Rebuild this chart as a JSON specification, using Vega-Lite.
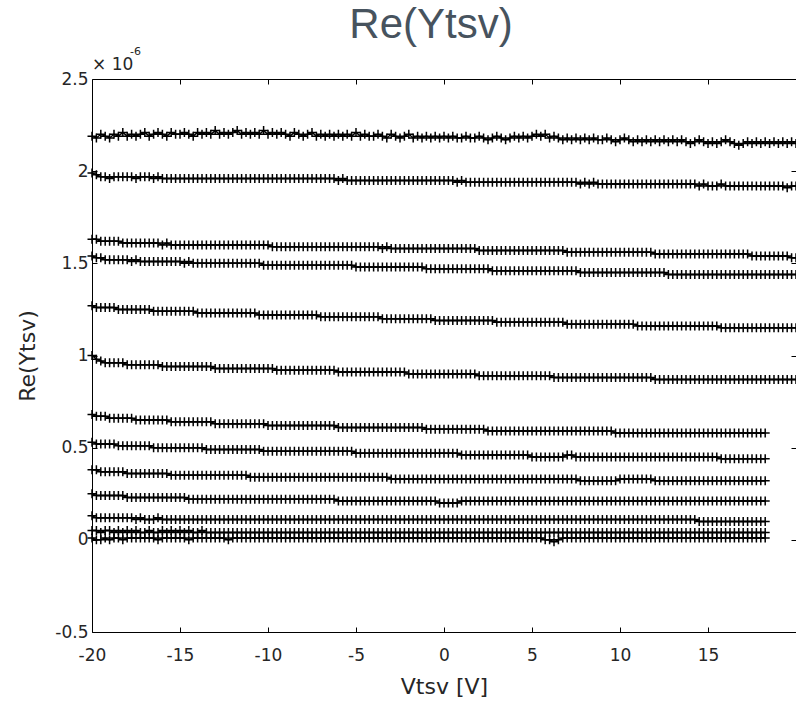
{
"$schema":"https://vega.github.io/schema/vega-lite/v6.json",
"width":704,"height":553,
"autosize":{"type":"none"},
"padding":{"left":92,"top":79,"right":0,"bottom":73},
"background":"white",
"title":{"text":"Re(Ytsv)","font":"Liberation Sans","fontSize":42,"fontWeight":"normal","color":"#47535e","anchor":"middle","dx":-13,"dy":37,"offset":3,"baseline":"alphabetic"},
"config":{"view":{"stroke":"black","strokeWidth":1},
"axis":{"domain":false,"grid":false,"ticks":true,"tickColor":"black","tickSize":-5,"labelFont":"DejaVu Sans","labelFontSize":17,"labelColor":"#262626","labelFlush":false,"labelOverlap":false,"labelBound":false,"titleFont":"DejaVu Sans","titleFontSize":22,"titleFontWeight":"normal","titleColor":"#262626"}},
"datasets":{"v":[
{"x":-20,"a":2.19,"b":1.99,"c":1.63,"d":1.54,"e":1.27,"f":1.00,"g":0.68,"h":0.53,"i":0.38,"j":0.25,"k":0.13,"l":0.05,"m":0.01},
{"x":-19.75,"a":2.18,"b":1.98,"c":1.63,"d":1.53,"e":1.26,"f":0.98,"g":0.67,"h":0.52,"i":0.38,"j":0.24,"k":0.12,"l":0.05,"m":0.00},
{"x":-19.5,"a":2.20,"b":1.97,"c":1.62,"d":1.53,"e":1.26,"f":0.97,"g":0.67,"h":0.52,"i":0.37,"j":0.24,"k":0.12,"l":0.04,"m":0.00},
{"x":-19.25,"a":2.19,"b":1.97,"c":1.62,"d":1.52,"e":1.26,"f":0.96,"g":0.67,"h":0.52,"i":0.37,"j":0.24,"k":0.12,"l":0.05,"m":0.01},
{"x":-19,"a":2.18,"b":1.96,"c":1.62,"d":1.52,"e":1.26,"f":0.96,"g":0.66,"h":0.52,"i":0.37,"j":0.24,"k":0.12,"l":0.05,"m":0.00},
{"x":-18.75,"a":2.20,"b":1.97,"c":1.62,"d":1.52,"e":1.26,"f":0.96,"g":0.66,"h":0.52,"i":0.37,"j":0.24,"k":0.12,"l":0.04,"m":0.01},
{"x":-18.5,"a":2.19,"b":1.97,"c":1.62,"d":1.52,"e":1.25,"f":0.96,"g":0.66,"h":0.51,"i":0.37,"j":0.24,"k":0.12,"l":0.05,"m":0.01},
{"x":-18.25,"a":2.21,"b":1.97,"c":1.61,"d":1.52,"e":1.25,"f":0.96,"g":0.66,"h":0.51,"i":0.37,"j":0.24,"k":0.12,"l":0.04,"m":0.00},
{"x":-18,"a":2.19,"b":1.97,"c":1.61,"d":1.52,"e":1.25,"f":0.95,"g":0.66,"h":0.51,"i":0.36,"j":0.23,"k":0.12,"l":0.05,"m":0.01},
{"x":-17.75,"a":2.20,"b":1.97,"c":1.61,"d":1.51,"e":1.25,"f":0.95,"g":0.66,"h":0.51,"i":0.36,"j":0.23,"k":0.12,"l":0.04,"m":0.01},
{"x":-17.5,"a":2.19,"b":1.96,"c":1.61,"d":1.52,"e":1.25,"f":0.95,"g":0.65,"h":0.51,"i":0.36,"j":0.23,"k":0.11,"l":0.05,"m":0.01},
{"x":-17.25,"a":2.20,"b":1.97,"c":1.61,"d":1.51,"e":1.25,"f":0.95,"g":0.65,"h":0.51,"i":0.36,"j":0.23,"k":0.12,"l":0.04,"m":0.01},
{"x":-17,"a":2.21,"b":1.97,"c":1.61,"d":1.51,"e":1.25,"f":0.95,"g":0.65,"h":0.51,"i":0.36,"j":0.23,"k":0.11,"l":0.04,"m":0.01},
{"x":-16.75,"a":2.19,"b":1.97,"c":1.61,"d":1.51,"e":1.25,"f":0.95,"g":0.65,"h":0.51,"i":0.36,"j":0.23,"k":0.11,"l":0.05,"m":0.01},
{"x":-16.5,"a":2.20,"b":1.96,"c":1.61,"d":1.51,"e":1.24,"f":0.95,"g":0.65,"h":0.50,"i":0.36,"j":0.23,"k":0.11,"l":0.04,"m":0.01},
{"x":-16.25,"a":2.21,"b":1.97,"c":1.61,"d":1.51,"e":1.24,"f":0.95,"g":0.65,"h":0.50,"i":0.36,"j":0.23,"k":0.12,"l":0.04,"m":0.00},
{"x":-16,"a":2.20,"b":1.96,"c":1.60,"d":1.51,"e":1.24,"f":0.94,"g":0.65,"h":0.50,"i":0.36,"j":0.23,"k":0.11,"l":0.05,"m":0.01},
{"x":-15.75,"a":2.19,"b":1.96,"c":1.61,"d":1.51,"e":1.24,"f":0.94,"g":0.65,"h":0.50,"i":0.36,"j":0.23,"k":0.11,"l":0.04,"m":0.01},
{"x":-15.5,"a":2.21,"b":1.96,"c":1.60,"d":1.51,"e":1.24,"f":0.94,"g":0.64,"h":0.50,"i":0.35,"j":0.23,"k":0.11,"l":0.05,"m":0.01},
{"x":-15.25,"a":2.20,"b":1.96,"c":1.60,"d":1.51,"e":1.24,"f":0.94,"g":0.64,"h":0.50,"i":0.35,"j":0.23,"k":0.11,"l":0.04,"m":0.01},
{"x":-15,"a":2.20,"b":1.96,"c":1.60,"d":1.51,"e":1.24,"f":0.94,"g":0.64,"h":0.50,"i":0.35,"j":0.23,"k":0.11,"l":0.05,"m":0.01},
{"x":-14.75,"a":2.21,"b":1.96,"c":1.60,"d":1.50,"e":1.24,"f":0.94,"g":0.64,"h":0.50,"i":0.35,"j":0.23,"k":0.11,"l":0.04,"m":0.01},
{"x":-14.5,"a":2.20,"b":1.96,"c":1.60,"d":1.51,"e":1.24,"f":0.94,"g":0.64,"h":0.50,"i":0.35,"j":0.22,"k":0.11,"l":0.05,"m":0.00},
{"x":-14.25,"a":2.19,"b":1.96,"c":1.60,"d":1.50,"e":1.24,"f":0.94,"g":0.64,"h":0.50,"i":0.35,"j":0.22,"k":0.11,"l":0.04,"m":0.01},
{"x":-14,"a":2.21,"b":1.96,"c":1.60,"d":1.50,"e":1.23,"f":0.94,"g":0.64,"h":0.50,"i":0.35,"j":0.22,"k":0.11,"l":0.04,"m":0.01},
{"x":-13.75,"a":2.20,"b":1.96,"c":1.60,"d":1.50,"e":1.23,"f":0.94,"g":0.64,"h":0.50,"i":0.35,"j":0.22,"k":0.11,"l":0.05,"m":0.01},
{"x":-13.5,"a":2.21,"b":1.96,"c":1.60,"d":1.50,"e":1.23,"f":0.94,"g":0.64,"h":0.49,"i":0.35,"j":0.22,"k":0.11,"l":0.04,"m":0.01},
{"x":-13.25,"a":2.20,"b":1.96,"c":1.60,"d":1.50,"e":1.23,"f":0.94,"g":0.64,"h":0.49,"i":0.35,"j":0.22,"k":0.11,"l":0.04,"m":0.01},
{"x":-13,"a":2.22,"b":1.96,"c":1.60,"d":1.50,"e":1.23,"f":0.93,"g":0.63,"h":0.49,"i":0.35,"j":0.22,"k":0.11,"l":0.04,"m":0.01},
{"x":-12.75,"a":2.20,"b":1.96,"c":1.60,"d":1.50,"e":1.23,"f":0.93,"g":0.63,"h":0.49,"i":0.35,"j":0.22,"k":0.11,"l":0.04,"m":0.01},
{"x":-12.5,"a":2.21,"b":1.96,"c":1.60,"d":1.50,"e":1.23,"f":0.93,"g":0.63,"h":0.49,"i":0.35,"j":0.22,"k":0.11,"l":0.04,"m":0.01},
{"x":-12.25,"a":2.20,"b":1.96,"c":1.60,"d":1.50,"e":1.23,"f":0.93,"g":0.63,"h":0.49,"i":0.35,"j":0.22,"k":0.11,"l":0.04,"m":0.00},
{"x":-12,"a":2.21,"b":1.96,"c":1.60,"d":1.50,"e":1.23,"f":0.93,"g":0.63,"h":0.49,"i":0.35,"j":0.22,"k":0.11,"l":0.04,"m":0.01},
{"x":-11.75,"a":2.22,"b":1.96,"c":1.60,"d":1.50,"e":1.23,"f":0.93,"g":0.63,"h":0.49,"i":0.35,"j":0.22,"k":0.11,"l":0.04,"m":0.01},
{"x":-11.5,"a":2.20,"b":1.96,"c":1.60,"d":1.50,"e":1.23,"f":0.93,"g":0.63,"h":0.49,"i":0.35,"j":0.22,"k":0.11,"l":0.04,"m":0.01},
{"x":-11.25,"a":2.21,"b":1.96,"c":1.60,"d":1.50,"e":1.23,"f":0.93,"g":0.63,"h":0.49,"i":0.35,"j":0.22,"k":0.11,"l":0.04,"m":0.01},
{"x":-11,"a":2.20,"b":1.96,"c":1.60,"d":1.50,"e":1.23,"f":0.93,"g":0.63,"h":0.49,"i":0.34,"j":0.22,"k":0.11,"l":0.04,"m":0.01},
{"x":-10.75,"a":2.21,"b":1.96,"c":1.60,"d":1.50,"e":1.23,"f":0.93,"g":0.63,"h":0.49,"i":0.34,"j":0.22,"k":0.11,"l":0.04,"m":0.01},
{"x":-10.5,"a":2.20,"b":1.96,"c":1.60,"d":1.50,"e":1.22,"f":0.93,"g":0.63,"h":0.49,"i":0.34,"j":0.22,"k":0.11,"l":0.04,"m":0.01},
{"x":-10.25,"a":2.22,"b":1.96,"c":1.60,"d":1.49,"e":1.22,"f":0.93,"g":0.63,"h":0.48,"i":0.34,"j":0.22,"k":0.11,"l":0.04,"m":0.01},
{"x":-10,"a":2.20,"b":1.96,"c":1.60,"d":1.49,"e":1.22,"f":0.93,"g":0.62,"h":0.48,"i":0.34,"j":0.22,"k":0.11,"l":0.04,"m":0.01},
{"x":-9.75,"a":2.21,"b":1.96,"c":1.59,"d":1.49,"e":1.22,"f":0.93,"g":0.62,"h":0.48,"i":0.34,"j":0.22,"k":0.11,"l":0.04,"m":0.01},
{"x":-9.5,"a":2.20,"b":1.96,"c":1.59,"d":1.49,"e":1.22,"f":0.92,"g":0.62,"h":0.48,"i":0.34,"j":0.22,"k":0.11,"l":0.04,"m":0.01},
{"x":-9.25,"a":2.21,"b":1.96,"c":1.59,"d":1.49,"e":1.22,"f":0.92,"g":0.62,"h":0.48,"i":0.34,"j":0.22,"k":0.11,"l":0.04,"m":0.01},
{"x":-9,"a":2.20,"b":1.96,"c":1.59,"d":1.49,"e":1.22,"f":0.92,"g":0.62,"h":0.48,"i":0.34,"j":0.22,"k":0.11,"l":0.04,"m":0.01},
{"x":-8.75,"a":2.19,"b":1.96,"c":1.59,"d":1.49,"e":1.22,"f":0.92,"g":0.62,"h":0.48,"i":0.34,"j":0.22,"k":0.11,"l":0.04,"m":0.01},
{"x":-8.5,"a":2.21,"b":1.96,"c":1.59,"d":1.49,"e":1.22,"f":0.92,"g":0.62,"h":0.48,"i":0.34,"j":0.22,"k":0.11,"l":0.04,"m":0.01},
{"x":-8.25,"a":2.20,"b":1.96,"c":1.59,"d":1.49,"e":1.22,"f":0.92,"g":0.62,"h":0.48,"i":0.34,"j":0.22,"k":0.11,"l":0.04,"m":0.01},
{"x":-8,"a":2.19,"b":1.96,"c":1.59,"d":1.49,"e":1.22,"f":0.92,"g":0.62,"h":0.48,"i":0.34,"j":0.22,"k":0.11,"l":0.04,"m":0.01},
{"x":-7.75,"a":2.20,"b":1.96,"c":1.59,"d":1.49,"e":1.22,"f":0.92,"g":0.62,"h":0.48,"i":0.34,"j":0.22,"k":0.11,"l":0.04,"m":0.01},
{"x":-7.5,"a":2.21,"b":1.96,"c":1.59,"d":1.49,"e":1.22,"f":0.92,"g":0.62,"h":0.48,"i":0.34,"j":0.22,"k":0.11,"l":0.04,"m":0.01},
{"x":-7.25,"a":2.19,"b":1.96,"c":1.59,"d":1.49,"e":1.22,"f":0.92,"g":0.62,"h":0.48,"i":0.34,"j":0.22,"k":0.11,"l":0.04,"m":0.01},
{"x":-7,"a":2.20,"b":1.96,"c":1.59,"d":1.49,"e":1.21,"f":0.92,"g":0.62,"h":0.48,"i":0.34,"j":0.22,"k":0.11,"l":0.04,"m":0.01},
{"x":-6.75,"a":2.19,"b":1.96,"c":1.59,"d":1.49,"e":1.21,"f":0.92,"g":0.62,"h":0.48,"i":0.34,"j":0.22,"k":0.11,"l":0.04,"m":0.01},
{"x":-6.5,"a":2.20,"b":1.96,"c":1.59,"d":1.49,"e":1.21,"f":0.92,"g":0.62,"h":0.48,"i":0.34,"j":0.22,"k":0.11,"l":0.04,"m":0.01},
{"x":-6.25,"a":2.19,"b":1.96,"c":1.59,"d":1.49,"e":1.21,"f":0.92,"g":0.62,"h":0.48,"i":0.34,"j":0.22,"k":0.11,"l":0.04,"m":0.01},
{"x":-6,"a":2.20,"b":1.95,"c":1.59,"d":1.49,"e":1.21,"f":0.91,"g":0.61,"h":0.48,"i":0.34,"j":0.21,"k":0.11,"l":0.04,"m":0.01},
{"x":-5.75,"a":2.19,"b":1.96,"c":1.59,"d":1.49,"e":1.21,"f":0.91,"g":0.61,"h":0.48,"i":0.34,"j":0.21,"k":0.11,"l":0.04,"m":0.01},
{"x":-5.5,"a":2.20,"b":1.95,"c":1.59,"d":1.49,"e":1.21,"f":0.91,"g":0.61,"h":0.48,"i":0.34,"j":0.21,"k":0.11,"l":0.04,"m":0.01},
{"x":-5.25,"a":2.19,"b":1.95,"c":1.59,"d":1.49,"e":1.21,"f":0.91,"g":0.61,"h":0.48,"i":0.34,"j":0.21,"k":0.11,"l":0.04,"m":0.01},
{"x":-5,"a":2.21,"b":1.95,"c":1.59,"d":1.48,"e":1.21,"f":0.91,"g":0.61,"h":0.47,"i":0.34,"j":0.21,"k":0.11,"l":0.04,"m":0.01},
{"x":-4.75,"a":2.19,"b":1.95,"c":1.59,"d":1.48,"e":1.21,"f":0.91,"g":0.61,"h":0.47,"i":0.34,"j":0.21,"k":0.11,"l":0.04,"m":0.01},
{"x":-4.5,"a":2.20,"b":1.95,"c":1.59,"d":1.48,"e":1.21,"f":0.91,"g":0.61,"h":0.47,"i":0.34,"j":0.21,"k":0.11,"l":0.04,"m":0.01},
{"x":-4.25,"a":2.19,"b":1.95,"c":1.59,"d":1.48,"e":1.21,"f":0.91,"g":0.61,"h":0.47,"i":0.34,"j":0.21,"k":0.11,"l":0.04,"m":0.01},
{"x":-4,"a":2.19,"b":1.95,"c":1.59,"d":1.48,"e":1.21,"f":0.91,"g":0.61,"h":0.47,"i":0.34,"j":0.21,"k":0.11,"l":0.04,"m":0.01},
{"x":-3.75,"a":2.20,"b":1.95,"c":1.59,"d":1.48,"e":1.21,"f":0.91,"g":0.61,"h":0.47,"i":0.34,"j":0.21,"k":0.11,"l":0.04,"m":0.01},
{"x":-3.5,"a":2.19,"b":1.95,"c":1.58,"d":1.48,"e":1.20,"f":0.91,"g":0.61,"h":0.47,"i":0.34,"j":0.21,"k":0.11,"l":0.04,"m":0.01},
{"x":-3.25,"a":2.18,"b":1.95,"c":1.59,"d":1.48,"e":1.20,"f":0.91,"g":0.61,"h":0.47,"i":0.34,"j":0.21,"k":0.11,"l":0.04,"m":0.01},
{"x":-3,"a":2.20,"b":1.95,"c":1.58,"d":1.48,"e":1.20,"f":0.91,"g":0.61,"h":0.47,"i":0.33,"j":0.21,"k":0.11,"l":0.04,"m":0.01},
{"x":-2.75,"a":2.19,"b":1.95,"c":1.58,"d":1.48,"e":1.20,"f":0.91,"g":0.61,"h":0.47,"i":0.33,"j":0.21,"k":0.11,"l":0.04,"m":0.01},
{"x":-2.5,"a":2.18,"b":1.95,"c":1.58,"d":1.48,"e":1.20,"f":0.91,"g":0.61,"h":0.47,"i":0.33,"j":0.21,"k":0.11,"l":0.04,"m":0.01},
{"x":-2.25,"a":2.19,"b":1.95,"c":1.58,"d":1.48,"e":1.20,"f":0.91,"g":0.61,"h":0.47,"i":0.33,"j":0.21,"k":0.11,"l":0.04,"m":0.01},
{"x":-2,"a":2.20,"b":1.95,"c":1.58,"d":1.48,"e":1.20,"f":0.90,"g":0.61,"h":0.47,"i":0.33,"j":0.21,"k":0.11,"l":0.04,"m":0.01},
{"x":-1.75,"a":2.18,"b":1.95,"c":1.58,"d":1.48,"e":1.20,"f":0.90,"g":0.61,"h":0.47,"i":0.33,"j":0.21,"k":0.11,"l":0.04,"m":0.01},
{"x":-1.5,"a":2.19,"b":1.95,"c":1.58,"d":1.48,"e":1.20,"f":0.90,"g":0.61,"h":0.47,"i":0.33,"j":0.21,"k":0.11,"l":0.04,"m":0.01},
{"x":-1.25,"a":2.18,"b":1.95,"c":1.58,"d":1.48,"e":1.20,"f":0.90,"g":0.61,"h":0.47,"i":0.33,"j":0.21,"k":0.11,"l":0.04,"m":0.01},
{"x":-1,"a":2.19,"b":1.95,"c":1.58,"d":1.47,"e":1.20,"f":0.90,"g":0.60,"h":0.47,"i":0.33,"j":0.21,"k":0.11,"l":0.04,"m":0.01},
{"x":-0.75,"a":2.18,"b":1.95,"c":1.58,"d":1.47,"e":1.20,"f":0.90,"g":0.60,"h":0.47,"i":0.33,"j":0.21,"k":0.11,"l":0.04,"m":0.01},
{"x":-0.5,"a":2.19,"b":1.95,"c":1.58,"d":1.47,"e":1.19,"f":0.90,"g":0.60,"h":0.47,"i":0.33,"j":0.21,"k":0.11,"l":0.04,"m":0.01},
{"x":-0.25,"a":2.18,"b":1.95,"c":1.58,"d":1.47,"e":1.19,"f":0.90,"g":0.60,"h":0.47,"i":0.33,"j":0.20,"k":0.11,"l":0.04,"m":0.01},
{"x":0,"a":2.19,"b":1.95,"c":1.58,"d":1.47,"e":1.19,"f":0.90,"g":0.60,"h":0.47,"i":0.33,"j":0.20,"k":0.11,"l":0.04,"m":0.01},
{"x":0.25,"a":2.18,"b":1.95,"c":1.58,"d":1.47,"e":1.19,"f":0.90,"g":0.60,"h":0.47,"i":0.33,"j":0.20,"k":0.11,"l":0.04,"m":0.01},
{"x":0.5,"a":2.19,"b":1.95,"c":1.58,"d":1.47,"e":1.19,"f":0.90,"g":0.60,"h":0.47,"i":0.33,"j":0.20,"k":0.11,"l":0.04,"m":0.01},
{"x":0.75,"a":2.18,"b":1.94,"c":1.58,"d":1.47,"e":1.19,"f":0.90,"g":0.60,"h":0.47,"i":0.33,"j":0.20,"k":0.11,"l":0.04,"m":0.01},
{"x":1,"a":2.18,"b":1.95,"c":1.58,"d":1.47,"e":1.19,"f":0.90,"g":0.60,"h":0.46,"i":0.33,"j":0.21,"k":0.11,"l":0.04,"m":0.01},
{"x":1.25,"a":2.19,"b":1.94,"c":1.58,"d":1.47,"e":1.19,"f":0.90,"g":0.60,"h":0.46,"i":0.33,"j":0.21,"k":0.11,"l":0.04,"m":0.01},
{"x":1.5,"a":2.18,"b":1.94,"c":1.58,"d":1.47,"e":1.19,"f":0.90,"g":0.60,"h":0.46,"i":0.33,"j":0.21,"k":0.11,"l":0.04,"m":0.01},
{"x":1.75,"a":2.18,"b":1.94,"c":1.58,"d":1.47,"e":1.19,"f":0.90,"g":0.60,"h":0.46,"i":0.33,"j":0.21,"k":0.11,"l":0.04,"m":0.01},
{"x":2,"a":2.19,"b":1.94,"c":1.57,"d":1.47,"e":1.19,"f":0.89,"g":0.60,"h":0.46,"i":0.33,"j":0.21,"k":0.11,"l":0.04,"m":0.01},
{"x":2.25,"a":2.18,"b":1.94,"c":1.57,"d":1.47,"e":1.19,"f":0.89,"g":0.60,"h":0.46,"i":0.33,"j":0.21,"k":0.11,"l":0.04,"m":0.01},
{"x":2.5,"a":2.17,"b":1.94,"c":1.57,"d":1.47,"e":1.19,"f":0.89,"g":0.59,"h":0.46,"i":0.33,"j":0.21,"k":0.11,"l":0.04,"m":0.01},
{"x":2.75,"a":2.18,"b":1.94,"c":1.57,"d":1.46,"e":1.19,"f":0.89,"g":0.59,"h":0.46,"i":0.33,"j":0.21,"k":0.11,"l":0.04,"m":0.01},
{"x":3,"a":2.19,"b":1.94,"c":1.57,"d":1.46,"e":1.18,"f":0.89,"g":0.59,"h":0.46,"i":0.33,"j":0.21,"k":0.11,"l":0.04,"m":0.01},
{"x":3.25,"a":2.18,"b":1.94,"c":1.57,"d":1.46,"e":1.18,"f":0.89,"g":0.59,"h":0.46,"i":0.33,"j":0.21,"k":0.11,"l":0.04,"m":0.01},
{"x":3.5,"a":2.17,"b":1.94,"c":1.57,"d":1.46,"e":1.18,"f":0.89,"g":0.59,"h":0.46,"i":0.33,"j":0.21,"k":0.11,"l":0.04,"m":0.01},
{"x":3.75,"a":2.18,"b":1.94,"c":1.57,"d":1.46,"e":1.18,"f":0.89,"g":0.59,"h":0.46,"i":0.33,"j":0.21,"k":0.11,"l":0.04,"m":0.01},
{"x":4,"a":2.19,"b":1.94,"c":1.57,"d":1.46,"e":1.18,"f":0.89,"g":0.59,"h":0.46,"i":0.33,"j":0.21,"k":0.11,"l":0.04,"m":0.01},
{"x":4.25,"a":2.18,"b":1.94,"c":1.57,"d":1.46,"e":1.18,"f":0.89,"g":0.59,"h":0.46,"i":0.33,"j":0.21,"k":0.11,"l":0.04,"m":0.01},
{"x":4.5,"a":2.19,"b":1.94,"c":1.57,"d":1.46,"e":1.18,"f":0.89,"g":0.59,"h":0.46,"i":0.33,"j":0.21,"k":0.11,"l":0.04,"m":0.01},
{"x":4.75,"a":2.18,"b":1.94,"c":1.57,"d":1.46,"e":1.18,"f":0.89,"g":0.59,"h":0.46,"i":0.33,"j":0.21,"k":0.11,"l":0.04,"m":0.01},
{"x":5,"a":2.19,"b":1.94,"c":1.57,"d":1.46,"e":1.18,"f":0.89,"g":0.59,"h":0.45,"i":0.33,"j":0.21,"k":0.11,"l":0.04,"m":0.01},
{"x":5.25,"a":2.20,"b":1.94,"c":1.57,"d":1.46,"e":1.18,"f":0.89,"g":0.59,"h":0.45,"i":0.33,"j":0.21,"k":0.11,"l":0.04,"m":0.01},
{"x":5.5,"a":2.19,"b":1.94,"c":1.57,"d":1.46,"e":1.18,"f":0.89,"g":0.59,"h":0.45,"i":0.33,"j":0.21,"k":0.11,"l":0.04,"m":0.01},
{"x":5.75,"a":2.20,"b":1.94,"c":1.57,"d":1.46,"e":1.18,"f":0.89,"g":0.59,"h":0.45,"i":0.33,"j":0.21,"k":0.11,"l":0.04,"m":0.00},
{"x":6,"a":2.18,"b":1.94,"c":1.57,"d":1.46,"e":1.18,"f":0.89,"g":0.59,"h":0.45,"i":0.33,"j":0.21,"k":0.11,"l":0.04,"m":0.00},
{"x":6.25,"a":2.19,"b":1.94,"c":1.57,"d":1.46,"e":1.18,"f":0.88,"g":0.59,"h":0.45,"i":0.33,"j":0.21,"k":0.11,"l":0.04,"m":-0.01},
{"x":6.5,"a":2.18,"b":1.94,"c":1.57,"d":1.46,"e":1.18,"f":0.88,"g":0.59,"h":0.45,"i":0.33,"j":0.21,"k":0.11,"l":0.04,"m":0.00},
{"x":6.75,"a":2.17,"b":1.94,"c":1.57,"d":1.46,"e":1.18,"f":0.88,"g":0.59,"h":0.45,"i":0.33,"j":0.21,"k":0.11,"l":0.04,"m":0.01},
{"x":7,"a":2.18,"b":1.94,"c":1.56,"d":1.46,"e":1.17,"f":0.88,"g":0.59,"h":0.46,"i":0.33,"j":0.21,"k":0.11,"l":0.04,"m":0.01},
{"x":7.25,"a":2.17,"b":1.94,"c":1.56,"d":1.46,"e":1.17,"f":0.88,"g":0.59,"h":0.46,"i":0.33,"j":0.21,"k":0.11,"l":0.04,"m":0.01},
{"x":7.5,"a":2.18,"b":1.94,"c":1.56,"d":1.46,"e":1.17,"f":0.88,"g":0.59,"h":0.45,"i":0.33,"j":0.21,"k":0.11,"l":0.04,"m":0.01},
{"x":7.75,"a":2.17,"b":1.93,"c":1.56,"d":1.45,"e":1.17,"f":0.88,"g":0.59,"h":0.45,"i":0.32,"j":0.21,"k":0.11,"l":0.04,"m":0.01},
{"x":8,"a":2.18,"b":1.94,"c":1.56,"d":1.45,"e":1.17,"f":0.88,"g":0.59,"h":0.45,"i":0.32,"j":0.21,"k":0.11,"l":0.04,"m":0.01},
{"x":8.25,"a":2.17,"b":1.93,"c":1.56,"d":1.45,"e":1.17,"f":0.88,"g":0.59,"h":0.45,"i":0.32,"j":0.21,"k":0.11,"l":0.04,"m":0.01},
{"x":8.5,"a":2.18,"b":1.94,"c":1.56,"d":1.45,"e":1.17,"f":0.88,"g":0.59,"h":0.45,"i":0.32,"j":0.21,"k":0.11,"l":0.04,"m":0.01},
{"x":8.75,"a":2.17,"b":1.93,"c":1.56,"d":1.45,"e":1.17,"f":0.88,"g":0.59,"h":0.45,"i":0.32,"j":0.21,"k":0.11,"l":0.04,"m":0.01},
{"x":9,"a":2.17,"b":1.93,"c":1.56,"d":1.45,"e":1.17,"f":0.88,"g":0.59,"h":0.45,"i":0.32,"j":0.21,"k":0.11,"l":0.04,"m":0.01},
{"x":9.25,"a":2.18,"b":1.93,"c":1.56,"d":1.45,"e":1.17,"f":0.88,"g":0.59,"h":0.45,"i":0.32,"j":0.21,"k":0.11,"l":0.04,"m":0.01},
{"x":9.5,"a":2.17,"b":1.93,"c":1.56,"d":1.45,"e":1.17,"f":0.88,"g":0.59,"h":0.45,"i":0.32,"j":0.21,"k":0.11,"l":0.04,"m":0.01},
{"x":9.75,"a":2.16,"b":1.93,"c":1.56,"d":1.45,"e":1.17,"f":0.88,"g":0.58,"h":0.45,"i":0.32,"j":0.21,"k":0.11,"l":0.04,"m":0.01},
{"x":10,"a":2.17,"b":1.93,"c":1.56,"d":1.45,"e":1.17,"f":0.88,"g":0.58,"h":0.45,"i":0.33,"j":0.21,"k":0.11,"l":0.04,"m":0.01},
{"x":10.25,"a":2.18,"b":1.93,"c":1.56,"d":1.45,"e":1.17,"f":0.88,"g":0.58,"h":0.45,"i":0.33,"j":0.21,"k":0.11,"l":0.04,"m":0.01},
{"x":10.5,"a":2.17,"b":1.93,"c":1.56,"d":1.45,"e":1.17,"f":0.88,"g":0.58,"h":0.45,"i":0.33,"j":0.21,"k":0.11,"l":0.04,"m":0.01},
{"x":10.75,"a":2.16,"b":1.93,"c":1.56,"d":1.45,"e":1.17,"f":0.88,"g":0.58,"h":0.45,"i":0.33,"j":0.21,"k":0.11,"l":0.04,"m":0.01},
{"x":11,"a":2.17,"b":1.93,"c":1.56,"d":1.45,"e":1.16,"f":0.88,"g":0.58,"h":0.45,"i":0.33,"j":0.21,"k":0.11,"l":0.04,"m":0.01},
{"x":11.25,"a":2.16,"b":1.93,"c":1.56,"d":1.45,"e":1.16,"f":0.88,"g":0.58,"h":0.45,"i":0.33,"j":0.21,"k":0.11,"l":0.04,"m":0.01},
{"x":11.5,"a":2.17,"b":1.93,"c":1.56,"d":1.45,"e":1.16,"f":0.88,"g":0.58,"h":0.45,"i":0.33,"j":0.21,"k":0.11,"l":0.04,"m":0.01},
{"x":11.75,"a":2.16,"b":1.93,"c":1.56,"d":1.45,"e":1.16,"f":0.88,"g":0.58,"h":0.45,"i":0.33,"j":0.21,"k":0.11,"l":0.04,"m":0.01},
{"x":12,"a":2.17,"b":1.93,"c":1.55,"d":1.45,"e":1.16,"f":0.87,"g":0.58,"h":0.45,"i":0.32,"j":0.21,"k":0.11,"l":0.04,"m":0.01},
{"x":12.25,"a":2.16,"b":1.93,"c":1.55,"d":1.45,"e":1.16,"f":0.87,"g":0.58,"h":0.45,"i":0.32,"j":0.21,"k":0.11,"l":0.04,"m":0.01},
{"x":12.5,"a":2.17,"b":1.93,"c":1.55,"d":1.45,"e":1.16,"f":0.87,"g":0.58,"h":0.45,"i":0.32,"j":0.21,"k":0.11,"l":0.04,"m":0.01},
{"x":12.75,"a":2.16,"b":1.93,"c":1.55,"d":1.44,"e":1.16,"f":0.87,"g":0.58,"h":0.45,"i":0.32,"j":0.21,"k":0.11,"l":0.04,"m":0.01},
{"x":13,"a":2.17,"b":1.93,"c":1.55,"d":1.44,"e":1.16,"f":0.87,"g":0.58,"h":0.45,"i":0.32,"j":0.21,"k":0.11,"l":0.04,"m":0.01},
{"x":13.25,"a":2.16,"b":1.93,"c":1.55,"d":1.44,"e":1.16,"f":0.87,"g":0.58,"h":0.45,"i":0.32,"j":0.21,"k":0.11,"l":0.04,"m":0.01},
{"x":13.5,"a":2.17,"b":1.93,"c":1.55,"d":1.44,"e":1.16,"f":0.87,"g":0.58,"h":0.45,"i":0.32,"j":0.21,"k":0.11,"l":0.04,"m":0.01},
{"x":13.75,"a":2.16,"b":1.93,"c":1.55,"d":1.44,"e":1.16,"f":0.87,"g":0.58,"h":0.45,"i":0.32,"j":0.21,"k":0.11,"l":0.04,"m":0.01},
{"x":14,"a":2.15,"b":1.93,"c":1.55,"d":1.44,"e":1.16,"f":0.87,"g":0.58,"h":0.45,"i":0.32,"j":0.21,"k":0.11,"l":0.04,"m":0.01},
{"x":14.25,"a":2.16,"b":1.93,"c":1.55,"d":1.44,"e":1.16,"f":0.87,"g":0.58,"h":0.45,"i":0.32,"j":0.21,"k":0.11,"l":0.04,"m":0.01},
{"x":14.5,"a":2.17,"b":1.92,"c":1.55,"d":1.44,"e":1.16,"f":0.87,"g":0.58,"h":0.45,"i":0.32,"j":0.21,"k":0.10,"l":0.04,"m":0.01},
{"x":14.75,"a":2.16,"b":1.93,"c":1.55,"d":1.44,"e":1.16,"f":0.87,"g":0.58,"h":0.45,"i":0.32,"j":0.21,"k":0.10,"l":0.04,"m":0.01},
{"x":15,"a":2.15,"b":1.92,"c":1.55,"d":1.44,"e":1.16,"f":0.87,"g":0.58,"h":0.45,"i":0.32,"j":0.21,"k":0.10,"l":0.04,"m":0.01},
{"x":15.25,"a":2.16,"b":1.92,"c":1.55,"d":1.44,"e":1.16,"f":0.87,"g":0.58,"h":0.45,"i":0.32,"j":0.21,"k":0.10,"l":0.04,"m":0.01},
{"x":15.5,"a":2.15,"b":1.92,"c":1.55,"d":1.44,"e":1.16,"f":0.87,"g":0.58,"h":0.45,"i":0.32,"j":0.21,"k":0.10,"l":0.04,"m":0.01},
{"x":15.75,"a":2.16,"b":1.93,"c":1.55,"d":1.44,"e":1.15,"f":0.87,"g":0.58,"h":0.44,"i":0.32,"j":0.21,"k":0.10,"l":0.04,"m":0.01},
{"x":16,"a":2.17,"b":1.92,"c":1.55,"d":1.44,"e":1.15,"f":0.87,"g":0.58,"h":0.44,"i":0.32,"j":0.21,"k":0.10,"l":0.04,"m":0.01},
{"x":16.25,"a":2.16,"b":1.92,"c":1.55,"d":1.44,"e":1.15,"f":0.87,"g":0.58,"h":0.44,"i":0.32,"j":0.21,"k":0.10,"l":0.04,"m":0.01},
{"x":16.5,"a":2.15,"b":1.92,"c":1.55,"d":1.44,"e":1.15,"f":0.87,"g":0.58,"h":0.44,"i":0.32,"j":0.21,"k":0.10,"l":0.04,"m":0.01},
{"x":16.75,"a":2.14,"b":1.92,"c":1.55,"d":1.44,"e":1.15,"f":0.87,"g":0.58,"h":0.44,"i":0.32,"j":0.21,"k":0.10,"l":0.04,"m":0.01},
{"x":17,"a":2.15,"b":1.92,"c":1.55,"d":1.44,"e":1.15,"f":0.87,"g":0.58,"h":0.44,"i":0.32,"j":0.21,"k":0.10,"l":0.04,"m":0.01},
{"x":17.25,"a":2.16,"b":1.92,"c":1.55,"d":1.44,"e":1.15,"f":0.87,"g":0.58,"h":0.44,"i":0.32,"j":0.21,"k":0.10,"l":0.04,"m":0.01},
{"x":17.5,"a":2.15,"b":1.92,"c":1.54,"d":1.44,"e":1.15,"f":0.87,"g":0.58,"h":0.44,"i":0.32,"j":0.21,"k":0.10,"l":0.04,"m":0.01},
{"x":17.75,"a":2.16,"b":1.92,"c":1.54,"d":1.44,"e":1.15,"f":0.87,"g":0.58,"h":0.44,"i":0.32,"j":0.21,"k":0.10,"l":0.04,"m":0.01},
{"x":18,"a":2.15,"b":1.92,"c":1.54,"d":1.44,"e":1.15,"f":0.87,"g":0.58,"h":0.44,"i":0.32,"j":0.21,"k":0.10,"l":0.04,"m":0.01},
{"x":18.25,"a":2.16,"b":1.92,"c":1.54,"d":1.44,"e":1.15,"f":0.87,"g":0.58,"h":0.44,"i":0.32,"j":0.21,"k":0.10,"l":0.04,"m":0.01},
{"x":18.5,"a":2.15,"b":1.92,"c":1.54,"d":1.44,"e":1.15,"f":0.87},
{"x":18.75,"a":2.16,"b":1.92,"c":1.54,"d":1.44,"e":1.15,"f":0.87},
{"x":19,"a":2.15,"b":1.92,"c":1.54,"d":1.44,"e":1.15,"f":0.87},
{"x":19.25,"a":2.16,"b":1.92,"c":1.54,"d":1.44,"e":1.15,"f":0.87},
{"x":19.5,"a":2.15,"b":1.91,"c":1.54,"d":1.44,"e":1.15,"f":0.87},
{"x":19.75,"a":2.16,"b":1.92,"c":1.53,"d":1.44,"e":1.15,"f":0.87},
{"x":20,"a":2.15,"b":1.92,"c":1.53,"d":1.44,"e":1.15,"f":0.87}
]},
"resolve":{"axis":{"x":"independent","y":"independent"}},
"layer":[
{"data":{"name":"v"},
 "transform":[{"fold":["a","b","c","d","e","f","g","h","i","j","k","l","m"],"as":["s","y"]},{"filter":"isValid(datum.y)"}],
 "mark":{"type":"line","color":"black","strokeWidth":1.5},
 "encoding":{
  "x":{"field":"x","type":"quantitative","scale":{"domain":[-20,20],"nice":false,"zero":false},
   "axis":{"orient":"bottom","values":[-20,-15,-10,-5,0,5,10,15],"labelExpr":"toString(datum.value)","labelPadding":20,"title":"Vtsv [V]","titlePadding":13}},
  "y":{"field":"y","type":"quantitative","scale":{"domain":[-0.5,2.5],"nice":false,"zero":false},
   "axis":{"orient":"left","values":[-0.5,0,0.5,1,1.5,2,2.5],"labelExpr":"toString(datum.value)","labelPadding":9,"title":"Re(Ytsv)","titlePadding":15}},
  "detail":{"field":"s"}}},
{"data":{"name":"v"},
 "transform":[{"fold":["a","b","c","d","e","f","g","h","i","j","k","l","m"],"as":["s","y"]},{"filter":"isValid(datum.y)"}],
 "mark":{"type":"point","shape":"M-1,0H1M0,-1V1","size":81,"filled":false,"stroke":"black","strokeWidth":1.5,"opacity":1},
 "encoding":{
  "x":{"field":"x","type":"quantitative","axis":null},
  "y":{"field":"y","type":"quantitative","axis":null}}},
{"data":{"values":[{"x":-20,"y":2.5,"t":"× 10"}]},
 "mark":{"type":"text","align":"left","baseline":"alphabetic","dx":0,"dy":-9,"font":"DejaVu Sans","fontSize":17,"color":"#262626"},
 "encoding":{
  "x":{"field":"x","type":"quantitative","axis":{"orient":"top","values":[-15,-10,-5,0,5,10,15],"labels":false,"title":null}},
  "y":{"field":"y","type":"quantitative","axis":{"orient":"right","values":[-0.5,0,0.5,1,1.5,2,2.5],"labels":false,"title":null}},
  "text":{"field":"t"}}},
{"data":{"values":[{"x":-20,"y":2.5,"t":"-6"}]},
 "mark":{"type":"text","align":"left","baseline":"alphabetic","dx":38,"dy":-24,"font":"DejaVu Sans","fontSize":11,"color":"#262626"},
 "encoding":{
  "x":{"field":"x","type":"quantitative","axis":null},
  "y":{"field":"y","type":"quantitative","axis":null},
  "text":{"field":"t"}}}
]
}
